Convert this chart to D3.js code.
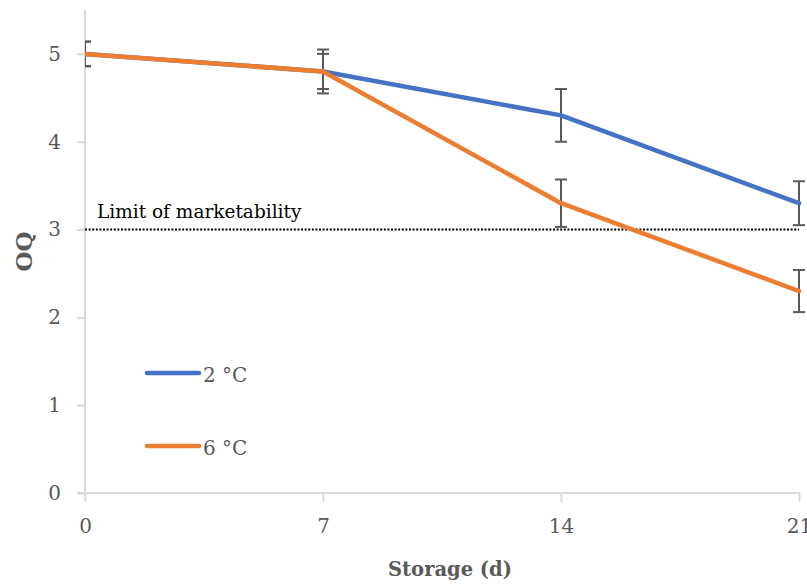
<!DOCTYPE html>
<html>
<head>
<meta charset="utf-8">
<script src="https://cdn.jsdelivr.net/npm/d3@7"></script>
<style>
  html, body { margin: 0; padding: 0; background: #fff; }
  svg { display: block; }
  text { font-family: "DejaVu Serif", "Liberation Serif", serif; }
</style>
</head>
<body>
<svg id="chart" width="807" height="585"></svg>
<script>
// ---- data ----
const days = [0, 7, 14, 21];
const xTickLabels = ["0", "7", "14", "21"];
const yTickValues = [0, 1, 2, 3, 4, 5];
const seriesNames = ["2 °C", "6 °C"];
const oq2C = [5.0, 4.8, 4.3, 3.3];
const oq6C = [5.0, 4.8, 3.3, 2.3];
const err2C = [0.14, 0.25, 0.30, 0.25];
const err6C = [0.14, 0.20, 0.27, 0.24];
const limitValue = 3;
const limitLabel = "Limit of marketability";
const xTitle = "Storage (d)";
const yTitle = "OQ";
const colors = ["#4472C4", "#ED7D31"];

const series = [
  { name: seriesNames[0], values: oq2C, errs: err2C, color: colors[0] },
  { name: seriesNames[1], values: oq6C, errs: err6C, color: colors[1] }
];

const svg = d3.select("#chart");
const pLeft = 85, pRight = 799, pTop = 10, pBottom = 493;

const x = d3.scaleLinear().domain([0, 21]).range([pLeft, pRight]);
const y = d3.scaleLinear().domain([0, 5.5]).range([pBottom, pTop]);

const axisColor = "#d9d9d9";
const textColor = "#595959";

// clip for plot area
svg.append("defs").append("clipPath").attr("id", "plotclip")
  .append("rect").attr("x", pLeft).attr("y", 0).attr("width", 807 - pLeft).attr("height", pBottom + 5);

// y axis
const yAxis = svg.append("g").attr("transform", `translate(${pLeft},0)`)
  .call(d3.axisLeft(y).tickValues(yTickValues).tickSize(8).tickPadding(16).tickFormat(d3.format("d")));
yAxis.select(".domain").remove();
yAxis.selectAll(".tick line").attr("stroke", axisColor).attr("stroke-width", 2);
yAxis.selectAll(".tick text").attr("fill", textColor).style("font-size", "20px")
  .style("font-family", '"DejaVu Serif", serif');
yAxis.append("line").attr("x1", 0).attr("x2", 0).attr("y1", pTop).attr("y2", pBottom)
  .attr("stroke", axisColor).attr("stroke-width", 2);

// x axis
const xAxis = svg.append("g").attr("transform", `translate(0,${pBottom})`)
  .call(d3.axisBottom(x).tickValues(days).tickSize(9).tickPadding(17)
    .tickFormat((d, i) => xTickLabels[i]));
xAxis.select(".domain").remove();
xAxis.selectAll(".tick line").attr("stroke", axisColor).attr("stroke-width", 2);
xAxis.selectAll(".tick text").attr("fill", textColor).style("font-size", "20px")
  .style("font-family", '"DejaVu Serif", serif');
xAxis.append("line").attr("x1", pLeft - 8).attr("x2", pRight + 1).attr("y1", 0).attr("y2", 0)
  .attr("stroke", axisColor).attr("stroke-width", 2);

// limit line
svg.append("line")
  .attr("x1", x(0)).attr("x2", x(21))
  .attr("y1", y(limitValue)).attr("y2", y(limitValue))
  .attr("stroke", "#000").attr("stroke-width", 2).attr("stroke-dasharray", "2,1.6");
svg.append("text").attr("x", 97).attr("y", y(limitValue) - 12)
  .attr("fill", "#000").style("font-size", "18.5px").text(limitLabel);

const plot = svg.append("g").attr("clip-path", "url(#plotclip)");

// error bars
series.forEach(s => {
  const g = plot.append("g");
  days.forEach((d, i) => {
    const cx = x(d), y1 = y(s.values[i] + s.errs[i]), y2 = y(s.values[i] - s.errs[i]);
    g.append("line").attr("x1", cx).attr("x2", cx).attr("y1", y1).attr("y2", y2)
      .attr("stroke", "#595959").attr("stroke-width", 2);
    [y1, y2].forEach(yy => g.append("line").attr("x1", cx - 6).attr("x2", cx + 6)
      .attr("y1", yy).attr("y2", yy).attr("stroke", "#595959").attr("stroke-width", 2));
  });
});

// lines
const line = d3.line().x((d, i) => x(days[i])).y(d => y(d));
series.forEach(s => {
  plot.append("path").datum(s.values).attr("d", line)
    .attr("fill", "none").attr("stroke", s.color).attr("stroke-width", 4.5)
    .attr("stroke-linejoin", "round").attr("stroke-linecap", "round");
});

// legend
const legendY = [373, 446];
series.forEach((s, i) => {
  svg.append("line").attr("x1", 147).attr("x2", 199).attr("y1", legendY[i]).attr("y2", legendY[i])
    .attr("stroke", s.color).attr("stroke-width", 4.5).attr("stroke-linecap", "round");
  svg.append("text").attr("x", 203).attr("y", legendY[i] + 9).attr("fill", textColor)
    .style("font-size", "20px").text(s.name);
});

// axis titles
svg.append("text").attr("x", 450).attr("y", 576).attr("text-anchor", "middle")
  .attr("fill", textColor).style("font-size", "19.5px").style("font-weight", "bold").text(xTitle);
svg.append("text").attr("transform", `translate(32,${(pTop + pBottom) / 2}) rotate(-90)`)
  .attr("text-anchor", "middle").attr("fill", textColor)
  .style("font-size", "23px").style("font-weight", "bold").text(yTitle);
</script>
</body>
</html>
